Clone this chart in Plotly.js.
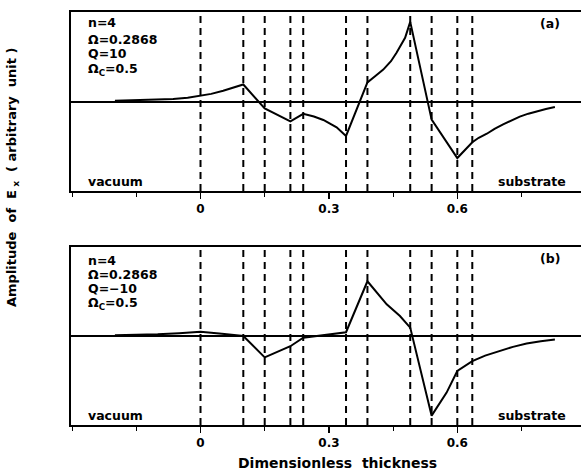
<!DOCTYPE html>
<html>
<head>
<meta charset="utf-8">
<script src="https://cdn.plot.ly/plotly-3.0.1.min.js"></script>
<style>html,body{margin:0;padding:0;background:#fff;}#chart{width:581px;height:475px;}</style>
</head>
<body>
<div id="chart"></div>
<script>
// Interface positions (dimensionless thickness)
const interfaces = [0, 0.10, 0.15, 0.21, 0.24, 0.34, 0.39, 0.49, 0.54, 0.60, 0.635];

// Panel (a): Q = 10
const xA = [-0.20, -0.15, -0.10, -0.064, -0.03, 0.00, 0.025, 0.053, 0.075, 0.10, 0.15, 0.21, 0.24, 0.265, 0.287, 0.318, 0.34, 0.39, 0.41, 0.427, 0.445, 0.458, 0.478, 0.49, 0.54, 0.60, 0.635, 0.65, 0.669, 0.687, 0.707, 0.726, 0.746, 0.766, 0.786, 0.807, 0.828];
const yA = [0.008, 0.012, 0.018, 0.027, 0.042, 0.062, 0.085, 0.12, 0.15, 0.19, -0.078, -0.221, -0.138, -0.168, -0.206, -0.288, -0.385, 0.213, 0.29, 0.356, 0.45, 0.544, 0.712, 0.89, -0.203, -0.632, -0.455, -0.405, -0.36, -0.305, -0.255, -0.21, -0.169, -0.136, -0.109, -0.083, -0.062];

// Panel (b): Q = -10
const xB = [-0.20, -0.15, -0.10, -0.05, 0.00, 0.05, 0.10, 0.15, 0.21, 0.24, 0.29, 0.34, 0.39, 0.435, 0.466, 0.49, 0.54, 0.56, 0.575, 0.60, 0.635, 0.665, 0.70, 0.73, 0.762, 0.795, 0.828];
const yB = [0.008, 0.012, 0.02, 0.032, 0.048, 0.026, 0.0, -0.24, -0.115, -0.02, 0.015, 0.042, 0.615, 0.356, 0.225, 0.094, -0.895, -0.74, -0.636, -0.393, -0.283, -0.22, -0.169, -0.122, -0.085, -0.058, -0.04];

const tickVals = [0, 0.3, 0.6];
const tickText = ["0", "0.3", "0.6"];
const labelsA = ["n=4", "Ω=0.2868", "Q=10", "Ω<sub>C</sub>=0.5"];
const labelsB = ["n=4", "Ω=0.2868", "Q=\u221210", "Ω<sub>C</sub>=0.5"];

const W = 581, H = 475, ML = 71, MR = 0, MT = 12, MB = 50;
const PW = W - ML - MR, PH = H - MT - MB;
const px = v => (v - ML) / PW;
const py = v => (H - MB - v) / PH;

const FONT = {family: "DejaVu Sans, Arial, sans-serif", color: "#000", weight: 700};
const lineStyle = {color: "#000", width: 2};

const traces = [
  {x: xA, y: yA, xaxis: "x", yaxis: "y", mode: "lines", line: lineStyle, hoverinfo: "skip", showlegend: false},
  {x: xB, y: yB, xaxis: "x2", yaxis: "y2", mode: "lines", line: lineStyle, hoverinfo: "skip", showlegend: false}
];

const shapes = [];
interfaces.forEach(v => {
  ["", "2"].forEach(s => {
    shapes.push({type: "line", xref: "x" + s, yref: "y" + s + " domain", x0: v, x1: v, y0: 0, y1: 1,
      line: {color: "#000", width: 2, dash: "7px,5px"}, layer: "below"});
  });
});

function xaxisDef(anchor) {
  return {
    anchor: anchor, range: [-0.3026, 0.889], showgrid: false, zeroline: false,
    showline: true, linecolor: "#000", linewidth: 2, mirror: true,
    tickmode: "array", tickvals: tickVals, ticktext: tickText,
    ticks: "outside", ticklen: 6, tickwidth: 1.5, tickcolor: "#000",
    minor: {dtick: 0.15, tick0: 0, ticks: "outside", ticklen: 4, tickwidth: 1.2, tickcolor: "#000"},
    tickfont: Object.assign({size: 12}, FONT), fixedrange: true
  };
}
function yaxisDef(anchor, domain) {
  return {
    anchor: anchor, domain: domain, range: [-1, 1], showgrid: false,
    zeroline: true, zerolinecolor: "#000", zerolinewidth: 2,
    showline: true, linecolor: "#000", linewidth: 2, mirror: false,
    showticklabels: false, ticks: "", fixedrange: true
  };
}

const annotations = [];
const yPosA = [23, 39, 54, 69];
const yPosB = [260, 274, 288, 303];
labelsA.forEach((t, i) => annotations.push({xref: "paper", yref: "paper", x: px(86), y: py(yPosA[i]), xanchor: "left", yanchor: "middle", text: t, showarrow: false, font: Object.assign({size: 12.5}, FONT)}));
labelsB.forEach((t, i) => annotations.push({xref: "paper", yref: "paper", x: px(86), y: py(yPosB[i]), xanchor: "left", yanchor: "middle", text: t, showarrow: false, font: Object.assign({size: 12.5}, FONT)}));
[["vacuum", 86, 181, "left"], ["substrate", 568, 181, "right"], ["vacuum", 86, 415, "left"], ["substrate", 568, 415, "right"],
 ["(a)", 562, 24, "right"], ["(b)", 562, 258, "right"]].forEach(a => {
  annotations.push({xref: "paper", yref: "paper", x: px(a[1]), y: py(a[2]), xanchor: a[3], yanchor: "middle", text: a[0], showarrow: false, font: Object.assign({size: 12.5}, FONT)});
});
annotations.push({xref: "paper", yref: "paper", x: px(337), y: py(463), xanchor: "center", yanchor: "middle",
  text: "Dimensionless&nbsp; thickness", showarrow: false, font: Object.assign({size: 14}, FONT)});
annotations.push({xref: "paper", yref: "paper", x: px(13), y: py(177), xanchor: "center", yanchor: "middle", textangle: -90,
  text: "Amplitude&nbsp; of&nbsp; E<sub> x</sub>&nbsp; (&nbsp;arbitrary&nbsp; unit&nbsp;)", showarrow: false, font: Object.assign({size: 13}, FONT)});

const layout = {
  width: W, height: H,
  margin: {l: ML, r: MR, t: MT, b: MB, pad: 0},
  paper_bgcolor: "#fff", plot_bgcolor: "#fff",
  xaxis: xaxisDef("y"),
  yaxis: yaxisDef("x", [py(191), 1]),
  xaxis2: xaxisDef("y2"),
  yaxis2: yaxisDef("x2", [0, py(247)]),
  shapes: shapes,
  annotations: annotations,
  showlegend: false
};

Plotly.newPlot("chart", traces, layout, {staticPlot: true, displayModeBar: false});
</script>
</body>
</html>
